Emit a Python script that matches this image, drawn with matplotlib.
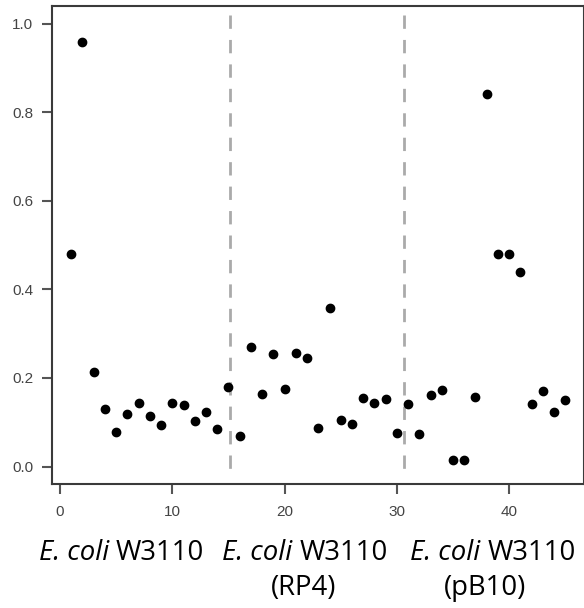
import matplotlib
matplotlib.use("Agg")
import matplotlib.pyplot as plt

W, H = 584, 608
x_vals = list(range(1, 46))
y_vals = [0.479, 0.959, 0.213, 0.131, 0.078, 0.118, 0.144, 0.115, 0.093, 0.144,
          0.139, 0.103, 0.123, 0.084, 0.179, 0.069, 0.270, 0.163, 0.254, 0.174,
          0.257, 0.245, 0.087, 0.357, 0.104, 0.097, 0.154, 0.143, 0.152, 0.076,
          0.142, 0.073, 0.162, 0.172, 0.014, 0.014, 0.157, 0.842, 0.479, 0.479,
          0.440, 0.141, 0.170, 0.124, 0.151]
dividers = [15.1, 30.6]
x_ticks = [0, 10, 20, 30, 40]
y_ticks = [0.0, 0.2, 0.4, 0.6, 0.8, 1.0]
group_italic = ["E. coli ", "E. coli ", "E. coli "]
group_strain = ["W3110", "W3110", "W3110"]
group_plasmid = ["", "(RP4)", "(pB10)"]

fig = plt.figure(figsize=(W / 100, H / 100), dpi=100)
l, r, b, t = 51.7, 583.5, 483.8, 6.0
ax = fig.add_axes([l / W, 1 - b / H, (r - l) / W, (b - t) / H])
ax.set_xlim(-0.74, 46.62)
ax.set_ylim(-0.039, 1.04)

for xd in dividers:
    ax.plot([xd, xd], [1.02, -0.014], color="#aaaaaa", lw=2.0,
            linestyle=(0, (4.8, 4.0)), zorder=1)

ax.plot(x_vals, y_vals, 'o', color='black', markersize=6, zorder=3)

ax.set_xticks(x_ticks)
ax.set_yticks(y_ticks)
ax.set_yticklabels([f"{v:.1f}" for v in y_ticks])
for s in ax.spines.values():
    s.set_color("#3a3a3a")
    s.set_linewidth(1.5)
ax.tick_params(axis='both', length=7.2, width=1.5, color="#555555",
               labelcolor="#444444", labelsize=11, direction='out')
ax.tick_params(axis='x', pad=8.0)
ax.tick_params(axis='y', pad=6.0)
for lab in ax.get_xticklabels() + ax.get_yticklabels():
    lab.set_family("Liberation Sans")

# group labels (pixel positions)
centers1 = [121.5, 305, 493]
centers2 = [121.5, 304, 485]
fs = 19.8
renderer = fig.canvas.get_renderer()
for c1, c2, ti, ts, tp in zip(centers1, centers2, group_italic, group_strain, group_plasmid):
    t_it = fig.text(0, 1 - 560.5 / H, ti, ha='left', va='baseline',
                    fontsize=fs, family="Open Sans", style='italic')
    t_rm = fig.text(0, 1 - 560.5 / H, ts, ha='left', va='baseline',
                    fontsize=fs, family="Open Sans")
    w_it = t_it.get_window_extent(renderer).width
    w_rm = t_rm.get_window_extent(renderer).width
    x0 = c1 - (w_it + w_rm) / 2
    t_it.set_x(x0 / W)
    t_rm.set_x((x0 + w_it) / W)
    if tp:
        fig.text(c2 / W, 1 - 595 / H, tp, ha='center', va='baseline',
                 fontsize=fs, family="Open Sans")

fig.savefig("out.png", dpi=100)
